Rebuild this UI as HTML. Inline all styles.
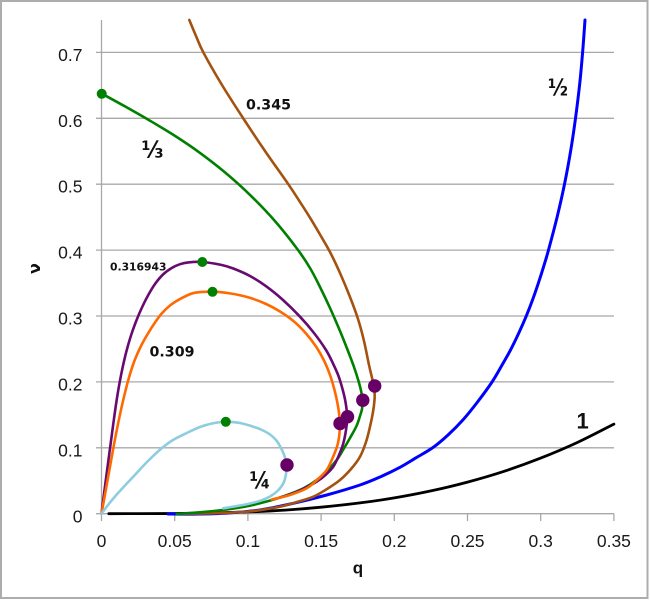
<!DOCTYPE html>
<html><head><meta charset="utf-8"><style>
html,body{margin:0;padding:0;background:#fff;}
svg{display:block;}
</style></head><body>
<svg id="chart" width="650" height="600" viewBox="0 0 650 600" xmlns="http://www.w3.org/2000/svg">
<rect x="0" y="0" width="650" height="600" fill="#fff"/>
<rect x="1" y="1" width="646.5" height="597" fill="none" stroke="#adadad" stroke-width="2"/>
<!-- gridlines -->
<g stroke="#a8a8a8" stroke-width="1.3">
<line x1="96" y1="52.4" x2="614" y2="52.4"/>
<line x1="96" y1="118.3" x2="614" y2="118.3"/>
<line x1="96" y1="184.2" x2="614" y2="184.2"/>
<line x1="96" y1="250.1" x2="614" y2="250.1"/>
<line x1="96" y1="316.0" x2="614" y2="316.0"/>
<line x1="96" y1="381.9" x2="614" y2="381.9"/>
<line x1="96" y1="447.8" x2="614" y2="447.8"/>
<line x1="96" y1="513.7" x2="614" y2="513.7"/>
<line x1="101.5" y1="20" x2="101.5" y2="521"/>
<line x1="174.7" y1="513.7" x2="174.7" y2="521"/>
<line x1="247.9" y1="513.7" x2="247.9" y2="521"/>
<line x1="321.1" y1="513.7" x2="321.1" y2="521"/>
<line x1="394.3" y1="513.7" x2="394.3" y2="521"/>
<line x1="467.5" y1="513.7" x2="467.5" y2="521"/>
<line x1="540.7" y1="513.7" x2="540.7" y2="521"/>
<line x1="613.9" y1="513.7" x2="613.9" y2="521"/>
</g>
<!-- tick labels -->
<g font-family="'Liberation Sans', sans-serif" font-size="17.5" fill="#1a1a1a" text-anchor="end">
<text x="82.5" y="60.9">0.7</text>
<text x="82.5" y="126.8">0.6</text>
<text x="82.5" y="192.7">0.5</text>
<text x="82.5" y="258.6">0.4</text>
<text x="82.5" y="324.5">0.3</text>
<text x="82.5" y="390.4">0.2</text>
<text x="82.5" y="456.3">0.1</text>
<text x="82.5" y="522.4">0</text>
</g>
<g font-family="'Liberation Sans', sans-serif" font-size="17.5" fill="#1a1a1a" text-anchor="middle">
<text x="101.5" y="547">0</text>
<text x="174.7" y="547">0.05</text>
<text x="247.9" y="547">0.1</text>
<text x="321.1" y="547">0.15</text>
<text x="394.3" y="547">0.2</text>
<text x="467.5" y="547">0.25</text>
<text x="540.7" y="547">0.3</text>
<text x="613.9" y="547">0.35</text>
</g>
<text x="358" y="573.5" font-family="'Liberation Sans', sans-serif" font-weight="bold" font-size="17" text-anchor="middle" fill="#111">q</text>
<text x="40" y="268.5" transform="rotate(-90 40 268.5)" font-family="'DejaVu Sans', sans-serif" font-weight="bold" font-size="16" text-anchor="middle" fill="#111">ν</text>

<g fill="none" stroke-linejoin="round" stroke-linecap="round">
<!-- black (1) -->
<polyline class="sm" stroke="#000" stroke-width="2.8" points="108.8,513.7 140,513.6 174.7,513.5 210,512.9 247.9,511.9 285,510.1 321.1,507.2 360,502.9 394.3,497.9 430.9,490.9 467.5,482.1 504.1,471.3 540.7,458.1 577.3,442.5 613.9,424.1"/>
<!-- blue (1/2) -->
<polyline class="sm" stroke="#0000ff" stroke-width="3" points="168,514 193,514.1 226.7,513.1 260,510 293.3,503.3 326.7,495 360,485 380,477 400,467.3 416,457.8 433,447.5 448,435 463.3,419.5 477.5,402 491.7,382.5 501.5,366 510.5,350 518.8,333 526,316.7 532.5,300 538.3,283.3 543.6,266.7 548.5,250 557.2,216.7 564.5,184.2 570.8,150 575.5,118.3 579.8,83 582.8,50 585,20"/>
<!-- brown (0.345) -->
<polyline class="sm" stroke="#a4520f" stroke-width="2.6" points="189.3,20 196,36 203.3,52.3 222,85 242.7,117.5 265,151 288.3,184.2 300,202 310,217.7 320,234.5 330,252 340,273 350,297 358,319 364,341 369,365 372.5,380 374.5,392 374.5,400 373,412 370,426.7 366,442 360,456.7 351,469 340,480 327,489 313.3,496.7 297,502 280,506.7 262,509.8 246.7,511.7 215,513.2 180,513.8"/>
<!-- green (1/3) -->
<polyline class="sm" stroke="#008000" stroke-width="2.6" points="101.7,93.6 125,106.4 150,120.7 175,135.9 200,152.9 225,172.4 250,194.9 275,221.1 297,248.6 310,268 320,287 330,308 340,331 348,351 354,367 358.5,381 361.5,393 362.5,402 362,409 360,416 356.5,426 350,438 343,450 336.7,460 327,471 316.7,480 305,487.5 293.3,492.7 277,498.5 260,503.3 243,507 226.7,509.5 200,512.3 176.7,514"/>
<!-- purple (0.316943) -->
<polyline class="sm" stroke="#680a70" stroke-width="2.6" points="101.5,513.7 104,494 107,471 110,448.5 113,426 116,404.5 119,386 122.5,368 126.5,351 131,335.5 136,321.5 141.5,308.5 148,295.5 155,284 163,274.5 171.7,268 180,264.2 188.3,262.4 202.3,262 221.7,265 233.3,268.5 250,276 266.7,286.7 283,300 300,316.7 314,333 326,350 333,363.5 338.5,376 342.5,389 345.5,402 347.2,416.7 346,430 343.3,443.3 339,455 333.3,466.7 326,474.5 316.7,481.7 305,488 293.3,493.3 280,497.5"/>
<!-- orange (0.309) -->
<polyline class="sm" stroke="#ff6a00" stroke-width="2.6" points="101.5,513.7 104,500 108.5,475 113.3,448.3 118,424 123,401 128.3,380 134,362 141,346 148.3,333 155,322.5 161.7,313.5 170,305.5 178.3,300 186,296 195,292.7 212.3,291.7 230,293.4 248,297.3 265,303.5 280,311.5 294,321.5 306,333.5 316,346.5 324,360.5 330,375 334.5,390 337.8,405 339.7,420 339.5,433 337.5,445 333,457 326.7,470 317,480 306.7,488.3 290,495 271.7,499.5"/>
<!-- light blue (1/4) -->
<polyline class="sm" stroke="#8ecde0" stroke-width="2.6" points="101.5,513.7 108,505 115,496.5 124,486.5 133.3,476.7 147,462 161.7,448.3 173,440 186.7,433 200,427 212,423.5 225.7,421.7 240,423 253.3,426.7 262,430 270,434.5 276,440 280.5,447 284.3,455.5 286.5,465 286,474 283.5,483 278,490.5 270,496.5 260,500.8 250,503.5 237,506 223.3,508.3"/>
</g>
<!-- green dots -->
<g fill="#008000">
<circle cx="101.7" cy="93.8" r="5"/>
<circle cx="202.3" cy="262" r="5"/>
<circle cx="212.5" cy="291.8" r="5"/>
<circle cx="225.8" cy="421.8" r="5"/>
</g>
<!-- purple dots -->
<g fill="#660066">
<circle cx="340" cy="423.5" r="6.7"/>
<circle cx="347.5" cy="416.7" r="6.7"/>
<circle cx="362.8" cy="400.2" r="6.7"/>
<circle cx="374.7" cy="386" r="6.7"/>
<circle cx="287" cy="465" r="6.7"/>
</g>
<!-- curve labels -->
<g font-family="'DejaVu Sans', sans-serif" font-weight="bold" fill="#111">
<text x="246" y="109.5" font-size="14" textLength="45" lengthAdjust="spacingAndGlyphs">0.345</text>
<text x="149.5" y="356.7" font-size="14" textLength="45" lengthAdjust="spacingAndGlyphs">0.309</text>
<text x="110" y="270.3" font-size="11" textLength="56.5" lengthAdjust="spacingAndGlyphs">0.316943</text>
<text x="548" y="95.5" font-size="23" textLength="20" lengthAdjust="spacingAndGlyphs">½</text>
<text x="141.5" y="157.5" font-size="23" textLength="22" lengthAdjust="spacingAndGlyphs">⅓</text>
<text x="249.5" y="488.5" font-size="23" textLength="21" lengthAdjust="spacingAndGlyphs">¼</text>
</g>
<text x="576.5" y="428.3" font-family="'Liberation Sans', sans-serif" font-weight="bold" font-size="22" fill="#111">1</text>
</svg>
<script>
(function(){
  var NS='http://www.w3.org/2000/svg';
  var pls=document.querySelectorAll('polyline.sm');
  for(var k=0;k<pls.length;k++){
    var pl=pls[k];
    var raw=pl.getAttribute('points').trim().split(/\s+/);
    var pts=[];
    for(var j=0;j<raw.length;j++){var a=raw[j].split(',');pts.push([parseFloat(a[0]),parseFloat(a[1])]);}
    var d='M'+pts[0][0]+','+pts[0][1];
    for(var i=0;i<pts.length-1;i++){
      var p0=pts[i-1]||pts[i],p1=pts[i],p2=pts[i+1],p3=pts[i+2]||pts[i+1];
      var c1x=p1[0]+(p2[0]-p0[0])/6,c1y=p1[1]+(p2[1]-p0[1])/6;
      var c2x=p2[0]-(p3[0]-p1[0])/6,c2y=p2[1]-(p3[1]-p1[1])/6;
      d+=' C'+c1x.toFixed(2)+','+c1y.toFixed(2)+' '+c2x.toFixed(2)+','+c2y.toFixed(2)+' '+p2[0]+','+p2[1];
    }
    var p=document.createElementNS(NS,'path');
    p.setAttribute('d',d);
    p.setAttribute('stroke',pl.getAttribute('stroke'));
    p.setAttribute('stroke-width',pl.getAttribute('stroke-width'));
    p.setAttribute('fill','none');
    pl.parentNode.replaceChild(p,pl);
  }
})();
</script>
</body></html>
